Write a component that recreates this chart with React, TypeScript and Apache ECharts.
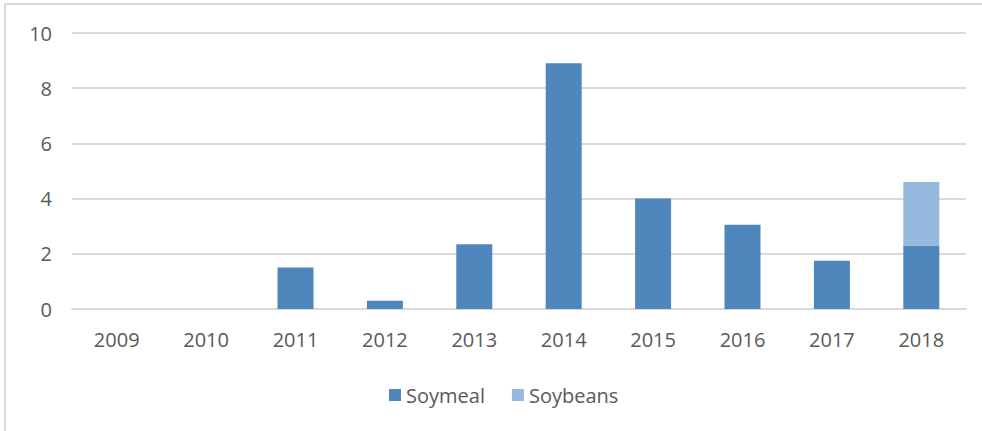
import React, { useEffect, useRef } from "react";
import * as echarts from "echarts";

const categories = ["2009", "2010", "2011", "2012", "2013", "2014", "2015", "2016", "2017", "2018"];
const soymeal = [0, 0, 1.5, 0.3, 2.35, 8.9, 4.0, 3.05, 1.75, 2.3];
const soybeans = [0, 0, 0, 0, 0, 0, 0, 0, 0, 2.3];
const seriesNames = ["Soymeal", "Soybeans"];

const FONT = "'Open Sans', 'Noto Sans', sans-serif";
const TEXT = "#595959";
const GRID = "#d9d9d9";

export default function App() {
  const ref = useRef<HTMLDivElement>(null);
  useEffect(() => {
    document.body.style.margin = "0";
    if (!ref.current) return;
    const chart = echarts.init(ref.current, undefined, { renderer: "svg" });
    chart.setOption({
      animation: false,
      backgroundColor: "#ffffff",
      textStyle: { fontFamily: FONT },
      grid: { left: 72, right: 16, top: 33, bottom: 122, containLabel: false },
      legend: {
        data: seriesNames,
        left: 384,
        top: 380,
        itemWidth: 12,
        itemHeight: 12,
        itemGap: 27,
        icon: "rect",
        textStyle: { color: TEXT, fontSize: 20, fontFamily: FONT, padding: [0, 0, 0, 0] },
      },
      xAxis: {
        type: "category",
        data: categories,
        axisLine: { show: true, lineStyle: { color: GRID, width: 2 } },
        axisTick: { show: false },
        axisLabel: { color: TEXT, fontSize: 20, fontFamily: FONT, margin: 20 },
      },
      yAxis: {
        type: "value",
        min: 0,
        max: 10,
        interval: 2,
        axisLine: { show: false },
        axisTick: { show: false },
        splitLine: { lineStyle: { color: GRID, width: 2 } },
        axisLabel: { color: TEXT, fontSize: 20, fontFamily: FONT, margin: 20 },
      },
      series: [
        {
          name: seriesNames[0],
          type: "bar",
          stack: "total",
          barWidth: 36,
          data: soymeal.map((v) => (v === 0 ? null : v)),
          itemStyle: { color: "#4f87bd" },
        },
        {
          name: seriesNames[1],
          type: "bar",
          stack: "total",
          barWidth: 36,
          data: soybeans.map((v) => (v === 0 ? null : v)),
          itemStyle: { color: "#95b8df" },
        },
      ],
      graphic: [
        { type: "line", shape: { x1: 5, y1: 4, x2: 982, y2: 4 }, style: { stroke: GRID, lineWidth: 2 } },
        { type: "line", shape: { x1: 5, y1: 4, x2: 5, y2: 431 }, style: { stroke: GRID, lineWidth: 2 } },
      ],
    });
    return () => chart.dispose();
  }, []);
  return <div ref={ref} style={{ width: 982, height: 431 }} />;
}
